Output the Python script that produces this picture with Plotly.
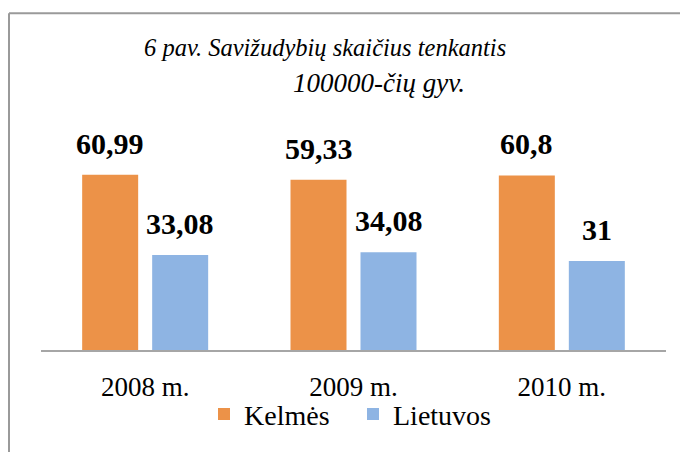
import plotly.graph_objects as go

categories = ["2008 m.", "2009 m.", "2010 m."]
kelmes = [60.99, 59.33, 60.8]
lietuvos = [33.08, 34.08, 31]
series_names = ["Kelmės", "Lietuvos"]
title_lines = ["6 pav. Savižudybių skaičius tenkantis", "100000-čių gyv."]

ORANGE = "#EC9248"
BLUE = "#8EB4E3"
FONT = "Liberation Serif"


def fmt(v):
    return f"{v:g}".replace(".", ",")


fig = go.Figure()
fig.add_trace(go.Bar(x=categories, y=kelmes, name=series_names[0],
                     marker=dict(color=ORANGE, line=dict(width=0))))
fig.add_trace(go.Bar(x=categories, y=lietuvos, name=series_names[1],
                     marker=dict(color=BLUE, line=dict(width=0))))

annotations = []
for vals, shift in ((kelmes, -35), (lietuvos, 35)):
    for c, v in zip(categories, vals):
        annotations.append(dict(
            x=c, y=v, xref="x", yref="y", text=f"<b>{fmt(v)}</b>",
            showarrow=False, xshift=shift, yshift=13, yanchor="bottom",
            font=dict(family=FONT, size=30, color="black")))

# title lines (paper coords relative to plot area)
annotations.append(dict(x=(325 - 41) / 625, y=(352 - 62) / 203, xref="paper", yref="paper",
                        text=f"<i>{title_lines[0]}</i>", showarrow=False,
                        xanchor="center", yanchor="bottom",
                        font=dict(family=FONT, size=24.5, color="black")))
annotations.append(dict(x=(379 - 41) / 625, y=(352 - 100) / 203, xref="paper", yref="paper",
                        text=f"<i>{title_lines[1]}</i>", showarrow=False,
                        xanchor="center", yanchor="bottom",
                        font=dict(family=FONT, size=27, color="black")))

frame = dict(color="#9a9a9a", width=2)
fig.update_layout(
    width=680, height=444,
    margin=dict(l=33, r=22, t=141, b=100),
    paper_bgcolor="white", plot_bgcolor="white",
    barmode="group", bargap=0.328, bargroupgap=0.2,
    showlegend=True,
    legend=dict(orientation="h", xanchor="center", x=(353 - 41) / 625,
                yanchor="middle", y=(352 - 417) / 203,
                font=dict(family=FONT, size=28, color="black"),
                entrywidth=104, entrywidthmode="pixels",
                bgcolor="rgba(0,0,0,0)"),
    annotations=annotations,
    shapes=[
        dict(type="line", xref="paper", yref="paper",
             x0=(9 - 41) / 625, x1=(9 - 41) / 625,
             y0=(352 - 470) / 203, y1=(352 - 12) / 203, line=frame, layer="below"),
        dict(type="line", xref="paper", yref="paper",
             x0=(9 - 41) / 625, x1=(720 - 41) / 625,
             y0=(352 - 12) / 203, y1=(352 - 12) / 203, line=frame, layer="below"),
    ],
)
fig.update_xaxes(showline=True, linecolor="#a6a6a6", linewidth=2,
                 showgrid=False, ticks="", ticklabelstandoff=12,
                 tickfont=dict(family=FONT, size=27, color="black"))
fig.update_yaxes(range=[0, 70], visible=False, showgrid=False, zeroline=False)

fig.write_html("out.html")
